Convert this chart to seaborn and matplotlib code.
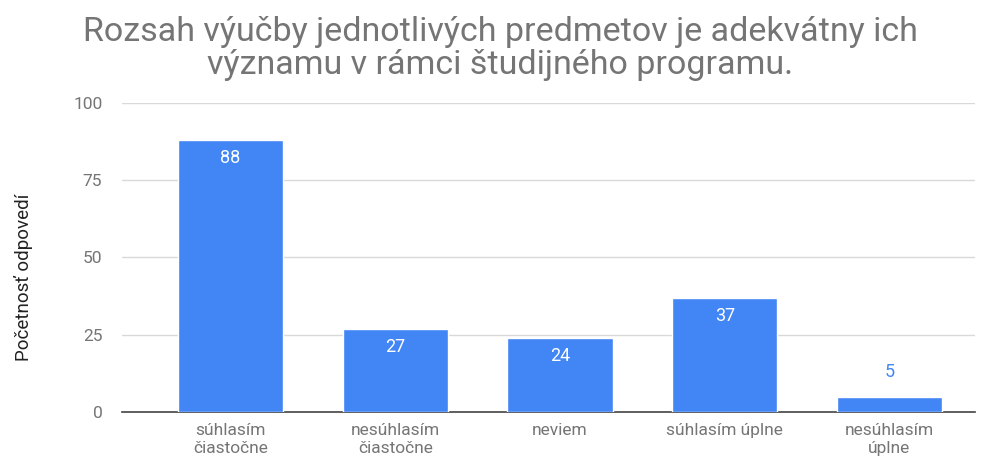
import matplotlib
matplotlib.use("Agg")
import matplotlib.pyplot as plt
import seaborn as sns
import pandas as pd

categories = ["súhlasím\nčiastočne", "nesúhlasím\nčiastočne", "neviem",
              "súhlasím úplne", "nesúhlasím\núplne"]
counts = [88, 27, 24, 37, 5]
yticks = [0, 25, 50, 75, 100]

sns.set_style("white")
plt.rcParams['font.family'] = ['Roboto', 'DejaVu Sans']

df = pd.DataFrame({"odpoved": categories, "pocet": counts})

fig = plt.figure(figsize=(9.9, 4.59), dpi=100)
ax = fig.add_axes([0.123, 0.1024, 0.862, 0.6732])

sns.barplot(data=df, x="odpoved", y="pocet", color="#4285f4", saturation=1,
            width=0.64, ax=ax, zorder=3)

ax.set_ylim(0, 100)
ax.set_xlim(-0.66, 4.52)
ax.set_yticks(yticks)
ax.yaxis.grid(True, color="#d9d9d9", linewidth=1, zorder=0)
ax.tick_params(axis="y", length=0, pad=14, labelsize=12.5, labelcolor="#757575")
ax.tick_params(axis="x", length=0, pad=8, labelsize=12.5, labelcolor="#757575")
for s in ["top", "right", "left"]:
    ax.spines[s].set_visible(False)
ax.spines["bottom"].set_color("#444444")
ax.spines["bottom"].set_linewidth(1.2)
ax.set_xlabel("")
ax.set_ylabel("Početnosť odpovedí", fontsize=13.5, color="#222222")
ax.yaxis.set_label_coords(-0.104, 0.437)

for i, v in enumerate(counts):
    if v > 10:
        ax.text(i, v - 3, str(v), ha="center", va="top", color="white",
                fontsize=13, zorder=4)
    else:
        ax.text(i, v + 5, str(v), ha="center", va="bottom", color="#4285f4",
                fontsize=13, zorder=4)

fig.text(0.505, 0.895, "Rozsah výučby jednotlivých predmetov je adekvátny ich\n"
         "významu v rámci študijného programu.", ha="center", va="center",
         fontsize=24.5, color="#757575", linespacing=1.05)

fig.savefig("out.png", dpi=100)
